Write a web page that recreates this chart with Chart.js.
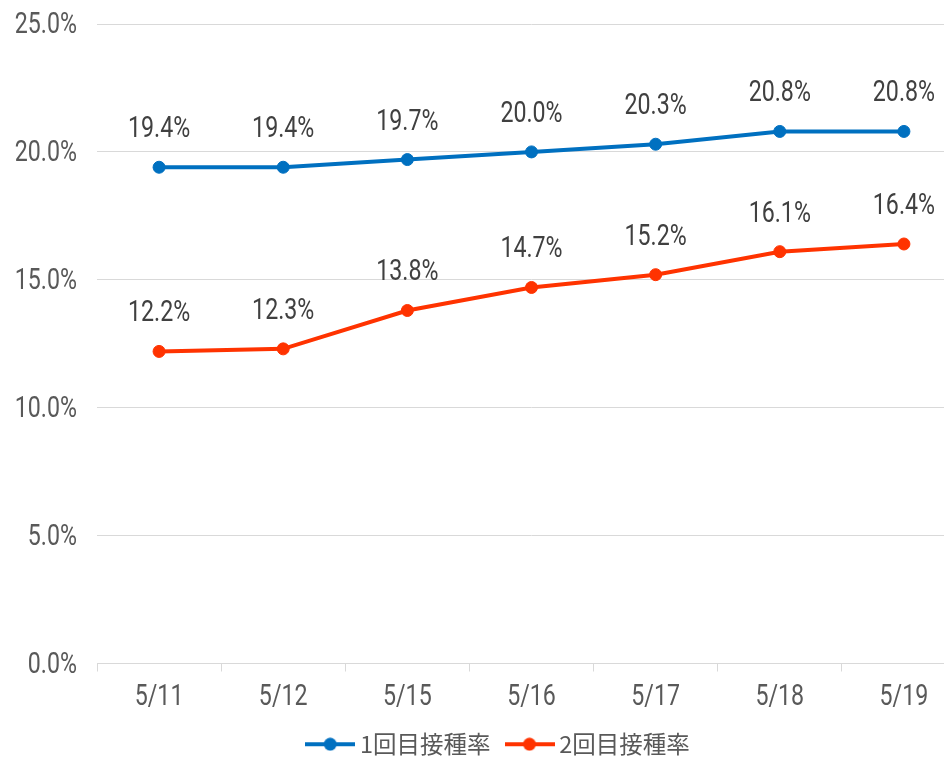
<!DOCTYPE html>
<html>
<head>
<meta charset="utf-8">
<script src="https://cdn.jsdelivr.net/npm/chart.js@4.4.1/dist/chart.umd.min.js"></script>
<style>
  html, body { margin: 0; padding: 0; overflow: hidden; background: #fff; }
</style>
</head>
<body>
<canvas id="mychart" width="996" height="758"></canvas>
<script>
var labels = ["5/11", "5/12", "5/15", "5/16", "5/17", "5/18", "5/19"]
var first_dose = [19.4, 19.4, 19.7, 20.0, 20.3, 20.8, 20.8]
var second_dose = [12.2, 12.3, 13.8, 14.7, 15.2, 16.1, 16.4]
var y_ticks = [0, 5, 10, 15, 20, 25]

var blue = "#0070C0"
var red = "#FF3300"

// narrow digits: draw with a horizontal squeeze
function drawNarrow(ctx, text, x, y, align, color) {
    ctx.save()
    ctx.font = "29px Roboto"
    ctx.fillStyle = color
    ctx.textBaseline = "alphabetic"
    var sx = 0.8
    var w = ctx.measureText(text).width * sx
    var left = x
    if (align == "center") left = x - w / 2
    if (align == "right") left = x - w
    ctx.translate(left, y)
    ctx.scale(sx, 1)
    ctx.textAlign = "left"
    ctx.fillText(text, 0, 0)
    ctx.restore()
}

// legend marker: line with a dot
function legendMark(color) {
    var c = document.createElement("canvas")
    c.width = 50
    c.height = 14
    var g = c.getContext("2d")
    g.strokeStyle = color
    g.lineWidth = 4
    g.beginPath()
    g.moveTo(0, 7)
    g.lineTo(50, 7)
    g.stroke()
    g.fillStyle = color
    g.beginPath()
    g.arc(25, 7, 6.5, 0, Math.PI * 2)
    g.fill()
    return c
}

var textPlugin = {
    id: "textPlugin",
    afterDraw: function(chart) {
        var ctx = chart.ctx
        var xs = chart.scales.x
        var ys = chart.scales.y
        y_ticks.forEach(function(v) {
            drawNarrow(ctx, v.toFixed(1) + "%", 77, ys.getPixelForValue(v) + 9, "right", "#595959")
        })
        labels.forEach(function(l, i) {
            drawNarrow(ctx, l, xs.getPixelForTick(i), xs.bottom - 7, "center", "#595959")
        })
        chart.data.datasets.forEach(function(ds, i) {
            var meta = chart.getDatasetMeta(i)
            meta.data.forEach(function(pt, j) {
                drawNarrow(ctx, ds.data[j].toFixed(1) + "%", pt.x, pt.y - 30, "center", "#404040")
            })
        })
    }
}

var mychart = document.getElementById("mychart").getContext("2d")
var chart = new Chart(mychart, {
    type: "line",
    data: {
        labels: labels,
        datasets: [{
            label: "1回目接種率",
            data: first_dose,
            borderColor: blue,
            backgroundColor: blue,
            borderWidth: 4,
            pointRadius: 6,
            pointBorderWidth: 1,
            pointStyle: "circle"
        },
        {
            label: "2回目接種率",
            data: second_dose,
            borderColor: red,
            backgroundColor: red,
            borderWidth: 4,
            pointRadius: 6,
            pointBorderWidth: 1,
            pointStyle: "circle"
        }]
    },
    options: {
        responsive: false,
        animation: false,
        layout: { padding: { top: 24, right: 30, left: 36, bottom: -8 } },
        plugins: {
            tooltip: { enabled: false },
            legend: {
                position: "bottom",
                labels: {
                    usePointStyle: true,
                    pointStyleWidth: 36,
                    color: "#595959",
                    font: { size: 23.5, family: "'Noto Sans CJK JP'" },
                    padding: 21,
                    generateLabels: function(c) {
                        return c.data.datasets.map(function(ds, i) {
                            return {
                                text: ds.label,
                                pointStyle: legendMark(ds.borderColor),
                                fillStyle: ds.borderColor,
                                strokeStyle: ds.borderColor,
                                lineWidth: 0,
                                fontColor: "#595959",
                                datasetIndex: i
                            }
                        })
                    }
                }
            }
        },
        scales: {
            x: {
                offset: true,
                grid: { offset: true, drawOnChartArea: false, color: "#d9d9d9", tickLength: 8 },
                border: { color: "#d9d9d9" },
                ticks: { display: false },
                afterFit: function(axis) { axis.height = 48 }
            },
            y: {
                min: 0,
                max: 25,
                afterBuildTicks: function(axis) {
                    axis.ticks = y_ticks.map(function(v) { return { value: v } })
                },
                grid: { color: "#d9d9d9", drawTicks: false },
                border: { display: false },
                ticks: { display: false },
                afterFit: function(axis) { axis.width = 61 }
            }
        }
    },
    plugins: [textPlugin]
})
</script>
</body>
</html>
